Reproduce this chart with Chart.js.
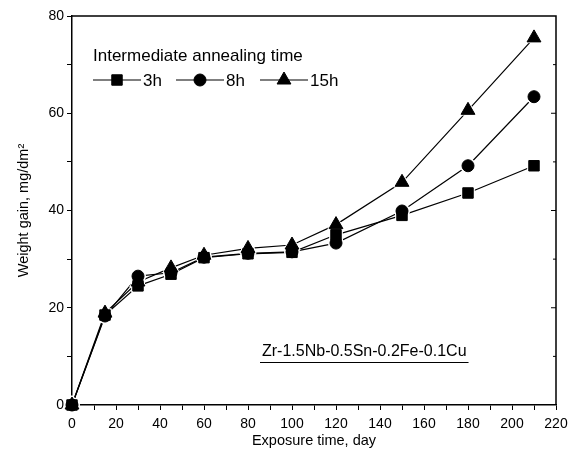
<!DOCTYPE html>
<html>
<head>
<meta charset="utf-8">
<script src="https://cdn.jsdelivr.net/npm/chart.js@4"></script>
<style>
  html, body { margin: 0; padding: 0; background: #fff; }
  #wrap { width: 576px; height: 450px; }
</style>
</head>
<body>
<div id="wrap"><canvas id="myChart" width="576" height="450"></canvas></div>
<script>
const days = [0, 15, 30, 45, 60, 80, 100, 120, 150, 180, 210];
const gain3h = [0, 18.5, 24.5, 26.9, 30.3, 31.1, 31.4, 35.0, 39.0, 43.6, 49.2];
const gain8h = [0, 18.3, 26.5, 27.2, 30.4, 31.2, 31.5, 33.3, 39.9, 49.2, 63.4];
const gain15h = [0, 18.9, 25.3, 28.2, 30.8, 32.2, 32.9, 37.1, 45.8, 60.6, 75.5];
const seriesLabels = ["3h", "8h", "15h"];
const legendTitle = "Intermediate annealing time";
const alloyLabel = "Zr-1.5Nb-0.5Sn-0.2Fe-0.1Cu";

const ctx = document.getElementById("myChart").getContext("2d");
const FONT = "'Liberation Sans', Arial, sans-serif";

const toPoints = (vals) => days.map((d, i) => ({ x: d, y: vals[i] }));

const series = [
    { label: seriesLabels[0], data: gain3h, style: "rect", r: 7.4 },
    { label: seriesLabels[1], data: gain8h, style: "circle", r: 6 },
    { label: seriesLabels[2], data: gain15h, style: "triangle", r: 8 },
];

const datasets = [];
series.forEach(s => {
    // connecting line
    datasets.push({
        label: s.label, data: toPoints(s.data), order: 3, showLine: true,
        borderColor: "#000", borderWidth: 1.2, pointRadius: 0, fill: false, clip: false,
    });
    // white halo so the line stops short of the marker
    datasets.push({
        label: s.label + " halo", data: toPoints(s.data), order: 2, showLine: false, clip: false,
        pointStyle: s.style, pointRadius: s.r + 1.5,
        pointBackgroundColor: "#fff", pointBorderColor: "#fff", pointBorderWidth: 1,
    });
});
series.forEach(s => {
    datasets.push({
        label: s.label + " marker", data: toPoints(s.data), order: 1, showLine: false, clip: false,
        pointStyle: s.style, pointRadius: s.r,
        pointBackgroundColor: "#000", pointBorderColor: "#000", pointBorderWidth: 1,
    });
});

const framePlugin = {
    id: "frame",
    afterDraw(chart) {
        const { ctx, chartArea: a, scales } = chart;
        ctx.save();
        ctx.strokeStyle = "#000";
        ctx.lineWidth = 1.5;
        ctx.beginPath();
        ctx.moveTo(a.left, a.top);
        ctx.lineTo(a.right, a.top);
        ctx.lineTo(a.right, a.bottom);
        ctx.stroke();
        // inward ticks on the right side
        ctx.lineWidth = 1;
        for (let v = 10; v < 80; v += 10) {
            const y = scales.y.getPixelForValue(v);
            ctx.beginPath();
            ctx.moveTo(a.right, y);
            ctx.lineTo(a.right - (v % 20 === 0 ? 5 : 3), y);
            ctx.stroke();
        }

        // legend
        ctx.fillStyle = "#000";
        ctx.font = "17px " + FONT;
        ctx.textBaseline = "middle";
        ctx.textAlign = "left";
        ctx.fillText(legendTitle, 93, 56);
        const ly = 80;
        const starts = [93, 176, 260];
        series.forEach((s, i) => {
            const x0 = starts[i];
            ctx.lineWidth = 1.2;
            ctx.beginPath();
            ctx.moveTo(x0, ly);
            ctx.lineTo(x0 + 48, ly);
            ctx.stroke();
            ctx.lineWidth = 1;
            Chart.helpers.drawPoint(ctx, { pointStyle: s.style, radius: s.r, borderWidth: 1 }, x0 + 24, ly);
            ctx.fillText(s.label, x0 + 50, ly + 1);
        });

        // alloy annotation
        ctx.font = "16px " + FONT;
        ctx.fillText(alloyLabel, 262, 352);
        const w = ctx.measureText(alloyLabel).width;
        ctx.lineWidth = 1;
        ctx.beginPath();
        ctx.moveTo(260, 362.5);
        ctx.lineTo(262 + w + 2, 362.5);
        ctx.stroke();
        ctx.restore();
    }
};

new Chart(ctx, {
    type: "scatter",
    data: { datasets: datasets },
    options: {
        responsive: false,
        animation: false,
        layout: { padding: { top: 16, right: 20, left: 0, bottom: 0 } },
        plugins: { legend: { display: false }, tooltip: { enabled: false } },
        scales: {
            x: {
                type: "linear",
                min: 0, max: 220,
                afterFit: (scale) => { scale.height = 45; },
                ticks: {
                    stepSize: 10, color: "#000", padding: 6,
                    maxRotation: 0, minRotation: 0, autoSkip: false,
                    font: { family: FONT, size: 14 },
                    callback: (v) => (v % 20 === 0 ? v : ""),
                },
                grid: { drawOnChartArea: false, drawTicks: true, tickLength: 5, tickColor: "#000" },
                border: { color: "#000", width: 1.5 },
                title: {
                    display: true, text: "Exposure time, day", color: "#000",
                    font: { family: FONT, size: 14.5 }, padding: { top: 0, bottom: 0 },
                },
            },
            y: {
                min: 0, max: 80,
                afterFit: (scale) => { scale.width = 72; },
                ticks: {
                    stepSize: 10, color: "#000", padding: 3,
                    font: { family: FONT, size: 14 },
                    callback: (v) => (v % 20 === 0 ? v : ""),
                },
                grid: { drawOnChartArea: false, drawTicks: true, tickLength: 5, tickColor: "#000" },
                border: { color: "#000", width: 1.5 },
                title: {
                    display: true, text: "Weight gain, mg/dm\u00B2", color: "#000",
                    font: { family: FONT, size: 14.5 }, padding: { top: 15, bottom: 0 },
                },
            },
        },
    },
    plugins: [framePlugin],
});
</script>
</body>
</html>
